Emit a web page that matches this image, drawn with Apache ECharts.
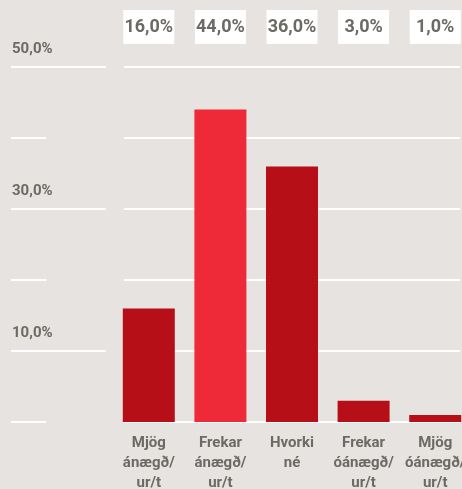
<!DOCTYPE html>
<html>
<head>
<meta charset="utf-8">
<script src="https://cdn.jsdelivr.net/npm/echarts@6/dist/echarts.min.js"></script>
<style>
  html, body { margin: 0; padding: 0; background: #e6e3e0; }
  #main { width: 462px; height: 489px; }
</style>
</head>
<body>
<div id="main"></div>
<script>
// data
var categories = ['Mjög\nánægð/\nur/t', 'Frekar\nánægð/\nur/t', 'Hvorki\nné', 'Frekar\nóánægð/\nur/t', 'Mjög\nóánægð/\nur/t']
var values = [16, 44, 36, 3, 1]
var highlight = 1 // index of the bright bar
var yTicks = [0, 10, 20, 30, 40, 50]
var yLabelTicks = [10, 30, 50]

var fontFam = 'Roboto, sans-serif'
var textColor = '#6b6a64'
var plotTop = 67
var plotHeight = 355

function pct (v) {
  return v.toFixed(1).replace('.', ',') + '%'
}

var myChart = echarts.init(document.getElementById('main'))
myChart.setOption({
  backgroundColor: '#e6e3e0',
  animation: false,
  grid: [
    // bars
    { left: 113, width: 358, top: plotTop, height: plotHeight, outerBoundsMode: 'none' },
    // white gridlines in the plot
    { left: 124, right: 2, top: plotTop, height: plotHeight, outerBoundsMode: 'none' },
    // short lines on the left
    { left: 11, width: 35, top: plotTop, height: plotHeight, outerBoundsMode: 'none' },
    // long lines with labels on the left
    { left: 11, width: 95, top: plotTop, height: plotHeight * (yLabelTicks[2] - yLabelTicks[0]) / 50, outerBoundsMode: 'none' }
  ],
  xAxis: [
    {
      gridIndex: 0,
      type: 'category',
      data: categories,
      axisLine: { show: false },
      axisTick: { show: false },
      axisLabel: {
        margin: 11,
        color: textColor,
        fontFamily: fontFam,
        fontWeight: 'bold',
        fontSize: 15,
        lineHeight: 20,
        interval: 0
      }
    },
    {
      gridIndex: 0,
      type: 'category',
      position: 'top',
      data: values.map(pct),
      axisLine: { show: false },
      axisTick: { show: false },
      axisLabel: {
        margin: 23,
        color: textColor,
        fontFamily: fontFam,
        fontWeight: 'bold',
        fontSize: 18,
        backgroundColor: '#ffffff',
        width: 51,
        height: 34,
        lineHeight: 34,
        align: 'center',
        interval: 0
      }
    },
    { gridIndex: 1, type: 'value', show: false },
    { gridIndex: 2, type: 'value', show: false },
    { gridIndex: 3, type: 'value', show: false }
  ],
  yAxis: [
    { gridIndex: 0, type: 'value', min: 0, max: 50, show: false },
    {
      gridIndex: 1,
      type: 'value',
      min: yTicks[0],
      max: yTicks[yTicks.length - 1],
      interval: yTicks[1] - yTicks[0],
      axisLine: { show: false },
      axisTick: { show: false },
      axisLabel: { show: false },
      splitLine: { lineStyle: { color: '#ffffff', width: 2 } }
    },
    {
      gridIndex: 2,
      type: 'value',
      min: yTicks[0],
      max: yTicks[yTicks.length - 1],
      interval: yTicks[1] - yTicks[0],
      axisLine: { show: false },
      axisTick: { show: false },
      axisLabel: { show: false },
      splitLine: { lineStyle: { color: '#ffffff', width: 2 } }
    },
    {
      gridIndex: 3,
      type: 'value',
      min: yLabelTicks[0],
      max: yLabelTicks[yLabelTicks.length - 1],
      interval: yLabelTicks[1] - yLabelTicks[0],
      axisLine: { show: false },
      axisTick: { show: false },
      axisLabel: {
        inside: true,
        margin: 1,
        align: 'left',
        verticalAlign: 'bottom',
        padding: [0, 0, 10, 0],
        color: textColor,
        fontFamily: fontFam,
        fontWeight: 'bold',
        fontSize: 15,
        formatter: pct
      },
      splitLine: { lineStyle: { color: '#ffffff', width: 2 } }
    }
  ],
  series: [
    {
      type: 'bar',
      xAxisIndex: 0,
      yAxisIndex: 0,
      barWidth: 52,
      z: 5,
      data: values.map(function (v, i) {
        return { value: v, itemStyle: { color: i === highlight ? '#ee2a38' : '#b70f17' } }
      })
    }
  ]
})
</script>
</body>
</html>
